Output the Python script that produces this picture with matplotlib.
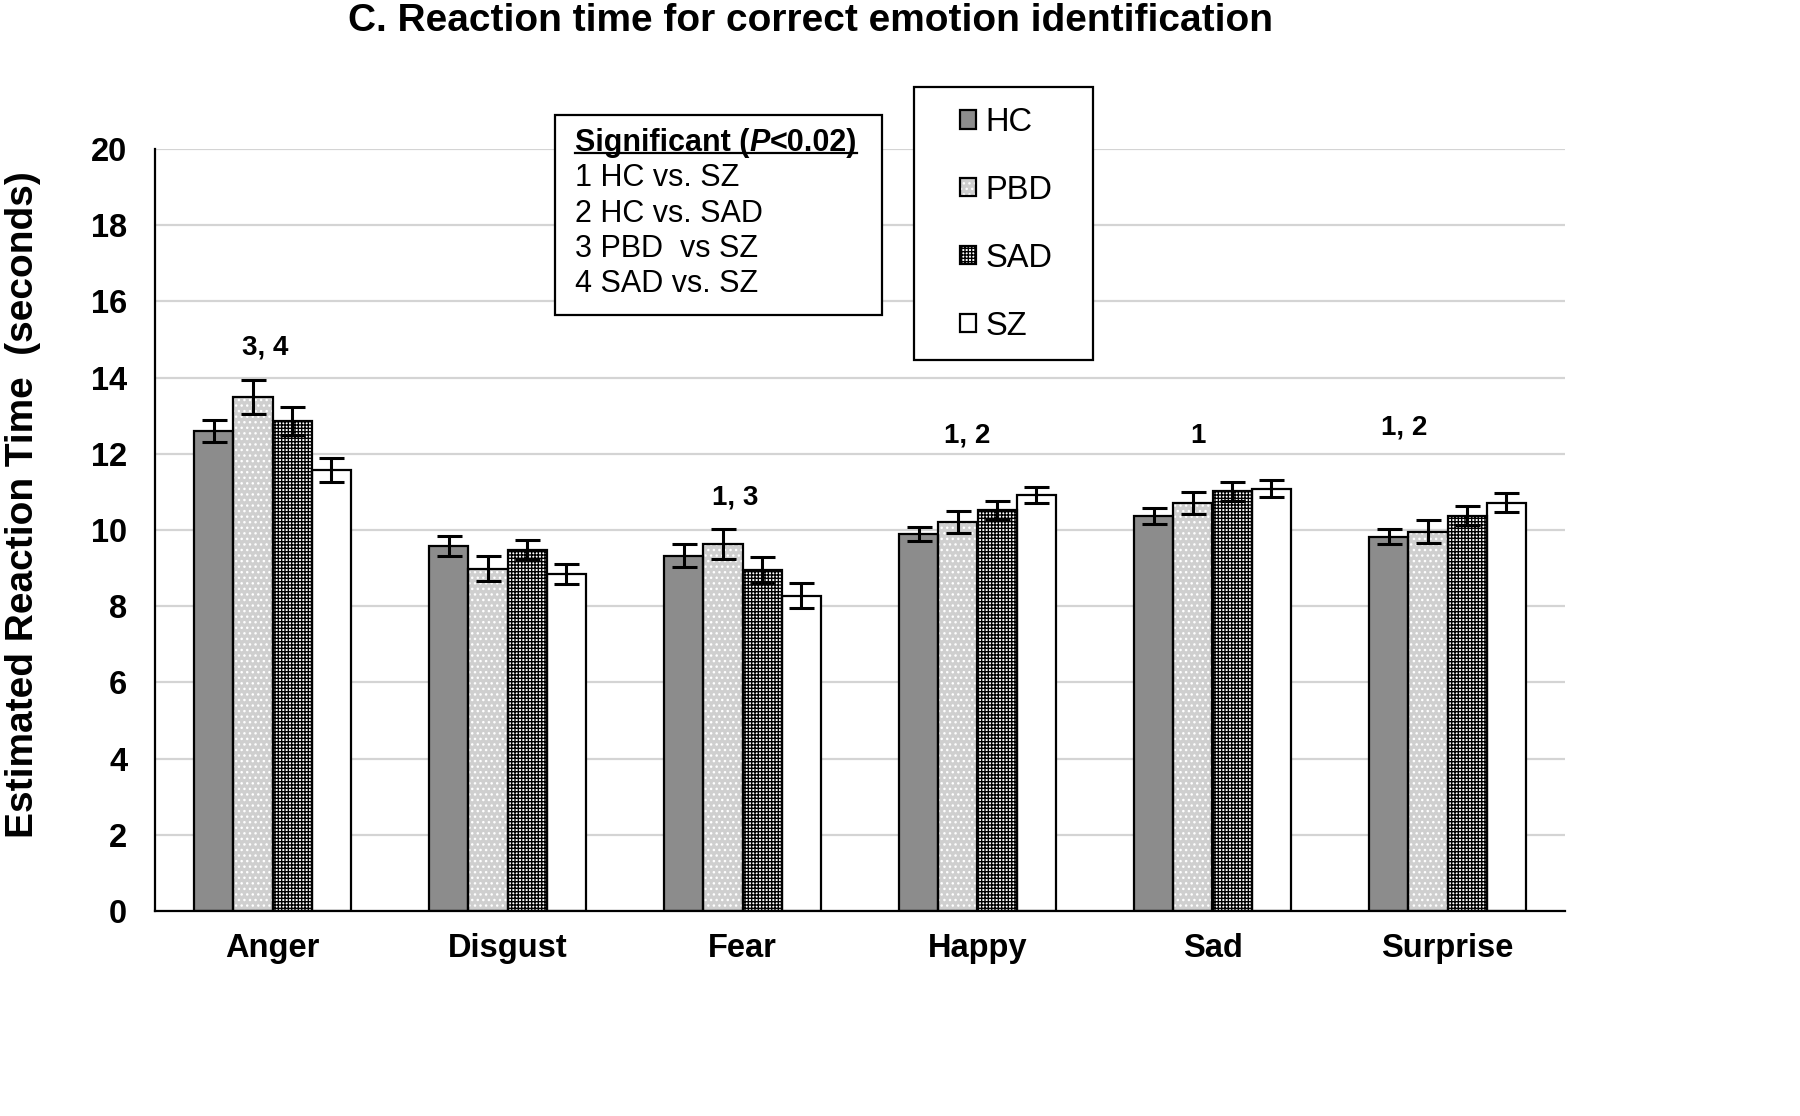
import matplotlib
matplotlib.use("Agg")
import matplotlib.pyplot as plt
import numpy as np
from matplotlib.patches import Rectangle
from matplotlib.lines import Line2D

plt.rcParams['font.family'] = ['Liberation Sans', 'DejaVu Sans']
plt.rcParams['hatch.linewidth'] = 1.0

categories = ["Anger", "Disgust", "Fear", "Happy", "Sad", "Surprise"]
groups = ["HC", "PBD", "SAD", "SZ"]
hc = [12.60, 9.58, 9.32, 9.90, 10.37, 9.82]
pbd = [13.49, 8.98, 9.63, 10.21, 10.71, 9.95]
sad = [12.86, 9.48, 8.95, 10.52, 11.02, 10.37]
sz = [11.57, 8.85, 8.27, 10.92, 11.08, 10.71]
hc_err = [0.30, 0.25, 0.30, 0.18, 0.20, 0.20]
pbd_err = [0.45, 0.33, 0.40, 0.28, 0.30, 0.30]
sad_err = [0.37, 0.25, 0.35, 0.25, 0.25, 0.25]
sz_err = [0.32, 0.27, 0.33, 0.22, 0.22, 0.25]
yticks = [0, 2, 4, 6, 8, 10, 12, 14, 16, 18, 20]

sig_labels = ["3, 4", "", "1, 3", "1, 2", "1", "1, 2"]
sig_y = [14.8, 0, 10.84, 12.47, 12.47, 12.7]
sig_dx = [-0.03, 0, -0.03, -0.045, -0.06, -0.185]

key_title = "Significant ("
key_lines = ["1 HC vs. SZ", "2 HC vs. SAD", "3 PBD  vs SZ", "4 SAD vs. SZ"]

values = [hc, pbd, sad, sz]
errors = [hc_err, pbd_err, sad_err, sz_err]
faces = ["#8c8c8c", "#cfcfcf", "#ffffff", "#ffffff"]
hatch_cols = ["#8c8c8c", "#ffffff", "#000000", "#ffffff"]
hatches = [None, "...", "+++++", None]

fig = plt.figure(figsize=(18, 11.16), dpi=100)
ax = fig.add_axes([155/1800, 1-911/1116, 1410/1800, 762/1116])

x = np.arange(len(categories))
w = 0.166
handles = []
for i, (vals, errs) in enumerate(zip(values, errors)):
    pos = x + (i - 1.5) * w
    fill = ax.bar(pos, vals, w, color=faces[i], edgecolor=hatch_cols[i],
                  linewidth=0, hatch=hatches[i], zorder=2)
    outline = ax.bar(pos, vals, w, fill=False, edgecolor="black",
                     linewidth=1.6, zorder=3)
    ax.errorbar(pos, vals, yerr=errs, fmt="none", ecolor="black",
                elinewidth=2.2, capsize=9, capthick=2.2, zorder=4)
    handles.append((fill, outline))

for i, lab in enumerate(sig_labels):
    if lab:
        ax.text(x[i] + sig_dx[i], sig_y[i], lab, ha="center", va="center",
                fontsize=20, fontweight="bold")

ax.set_xlim(-0.5, len(categories) - 0.5)
ax.set_ylim(0, 20)
ax.set_yticks(yticks)
ax.set_xticks(x)
ax.set_xticklabels(categories, fontsize=23.5, fontweight="bold")
ax.tick_params(axis="y", length=0, pad=20, labelsize=23.5)
ax.tick_params(axis="x", length=0, pad=16)
for t in ax.get_yticklabels():
    t.set_fontweight("bold")
ax.grid(axis="y", color="#d4d4d4", linewidth=1.6, zorder=0)
ax.set_axisbelow(True)
for s in ["top", "right"]:
    ax.spines[s].set_visible(False)
for s in ["left", "bottom"]:
    ax.spines[s].set_linewidth(1.6)
    ax.spines[s].set_color("black")
ax.set_ylabel("Estimated Reaction Time  (seconds)", fontsize=28, fontweight="bold")
ax.yaxis.set_label_coords(-0.081, 0.533)

fig.text(811/1800, 1-21/1116, "C. Reaction time for correct emotion identification",
         ha="center", va="center", fontsize=28, fontweight="bold")

# legend box
fig.add_artist(Rectangle((914/1800, 1-360/1116), 179/1800, 273/1116,
                         transform=fig.transFigure, fill=True, facecolor="white",
                         edgecolor="black", linewidth=1.6, zorder=5))
leg = fig.legend(handles, groups, loc="upper left",
                 bbox_to_anchor=(960/1800, 1-107/1116), frameon=False,
                 fontsize=23.5, handlelength=0.49, handleheight=0.49,
                 handletextpad=0.3, labelspacing=1.13, borderpad=0,
                 borderaxespad=0)
leg.set_zorder(6)

# significance key box
fig.add_artist(Rectangle((555/1800, 1-315/1116), 327/1800, 200/1116,
                         transform=fig.transFigure, fill=True, facecolor="white",
                         edgecolor="black", linewidth=1.6, zorder=5))
t1 = fig.text(575/1800, 1-143/1116, key_title, ha="left", va="center",
              fontsize=22, fontweight="bold", zorder=6)
t2 = fig.text(0, 0, "P", fontsize=22, fontweight="bold", style="italic", zorder=6)
t3 = fig.text(0, 0, "<0.02)", fontsize=22, fontweight="bold", zorder=6)
for j, line in enumerate(key_lines):
    fig.text(575/1800, 1-(178 + j*35.5)/1116, line, ha="left", va="center",
             fontsize=22, zorder=6)

fig.canvas.draw()
r = fig.canvas.get_renderer()
inv = fig.transFigure.inverted()
b1 = t1.get_window_extent(r)
t2.set_position(inv.transform((b1.x1, b1.y0)))
t2.set_va("bottom")
fig.canvas.draw()
b2 = t2.get_window_extent(r)
t3.set_position(inv.transform((b2.x1, b1.y0)))
t3.set_va("bottom")
fig.canvas.draw()
b3 = t3.get_window_extent(r)
uy = b1.y0 + (b1.height * 0.16)
p0 = inv.transform((b1.x0, uy))
p1 = inv.transform((b3.x1, uy))
fig.add_artist(Line2D([p0[0], p1[0]], [p0[1], p1[1]], transform=fig.transFigure,
                      color="black", linewidth=1.6, zorder=7))

fig.savefig("out.png", dpi=100)
